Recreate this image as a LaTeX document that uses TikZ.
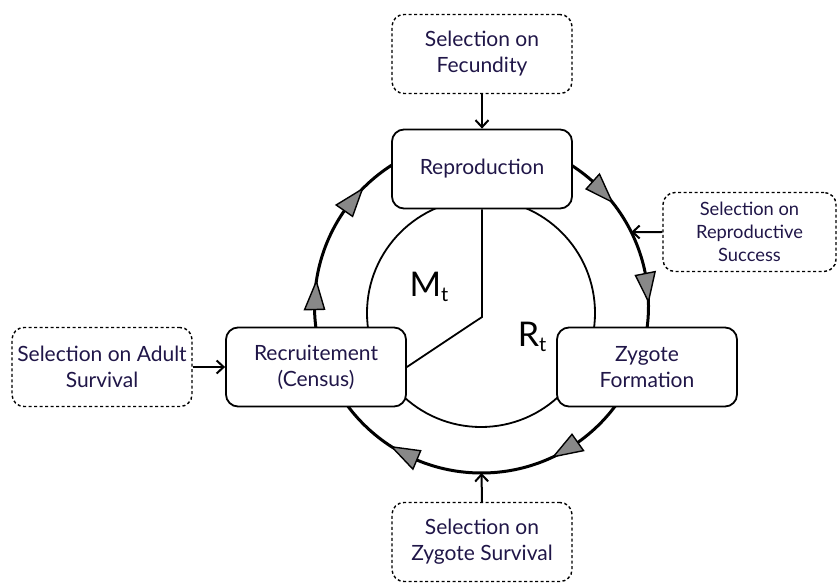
\documentclass[tikz,border=0pt]{standalone}
\usepackage{fontspec}
\setmainfont{Lato}
\usetikzlibrary{arrows.meta}
\definecolor{inkblue}{RGB}{32,22,72}
\definecolor{headgray}{RGB}{136,136,136}
\tikzset{
	stage/.style={draw, line width=1.8pt, rounded corners=12pt, fill=white, text=inkblue, minimum width=180pt, minimum height=79pt, inner xsep=1pt, align=center, font=\fontsize{21}{26}\selectfont},
	selection/.style={stage, line width=1.4pt, dash pattern=on 3pt off 2.5pt},
	feed/.style={line width=2pt, -{Straight Barb[length=7pt,width=13pt]}},
	rate/.style={font=\fontsize{34}{34}\selectfont},
}

\begin{document}
\begin{tikzpicture}[x=1pt,y=1pt]
		\useasboundingbox (0,0) rectangle (838,582);
		\coordinate (O) at (481.5,276);
		\coordinate (I) at (481,269);
		% life cycle
		\draw[line width=3pt] (O) circle (167);
		\draw[line width=1.8pt] (I) circle (114);
		\foreach \a in {38.5,1.5,-64.5,-122.5,171.5,135.5}
			\filldraw[fill=headgray, line width=1.4pt] ([shift={(O)}]\a:167) -- ([shift={(O)}]{\a+9.7}:157) -- ([shift={(O)}]{\a+9.7}:177) -- cycle;
		% stages
		\node[stage] (repro) at (482,413) {Reproduction};
		\node[stage] (recruit) at (316,215) {Recruitement\\(Census)};
		\node[stage] (zygote) at (647,215) {Zygote\\Formation};
		\coordinate (hub) at (482,265);
		\draw[line width=1.8pt] (repro.south) -- (hub) -- (recruit.east);
		\node[rate] (mlabel) at (429,295) {M\raisebox{-5pt}{\fontsize{20}{20}\selectfont t}};
		\node[rate] (rlabel) at (532,245) {R\raisebox{-5pt}{\fontsize{20}{20}\selectfont t}};
		% selection
		\node[selection] (selFec) at (482,528) {Selection on\\Fecundity};
		\node[selection] (selAdult) at (102,215) {Selection on Adult\\Survival};
		\node[selection, minimum width=173pt, font=\fontsize{18.3}{23}\selectfont] (selRepro) at (749.5,350) {Selection on\\Reproductive\\Success};
		\node[selection] (selZyg) at (482,40) {Selection on\\Zygote Survival};
		\coordinate (hitRepro) at ([shift={(O)}]26.3:167);
		\coordinate (hitZyg) at ([shift={(O)}]-90:167);
		\draw[feed] (selFec.south) -- (repro.north);
		\draw[feed] (selAdult.east) -- (recruit.west);
		\draw[feed] (selRepro.west) -- (hitRepro);
		\draw[feed] (selZyg.north) -- (hitZyg);
	\end{tikzpicture}
\end{document}
